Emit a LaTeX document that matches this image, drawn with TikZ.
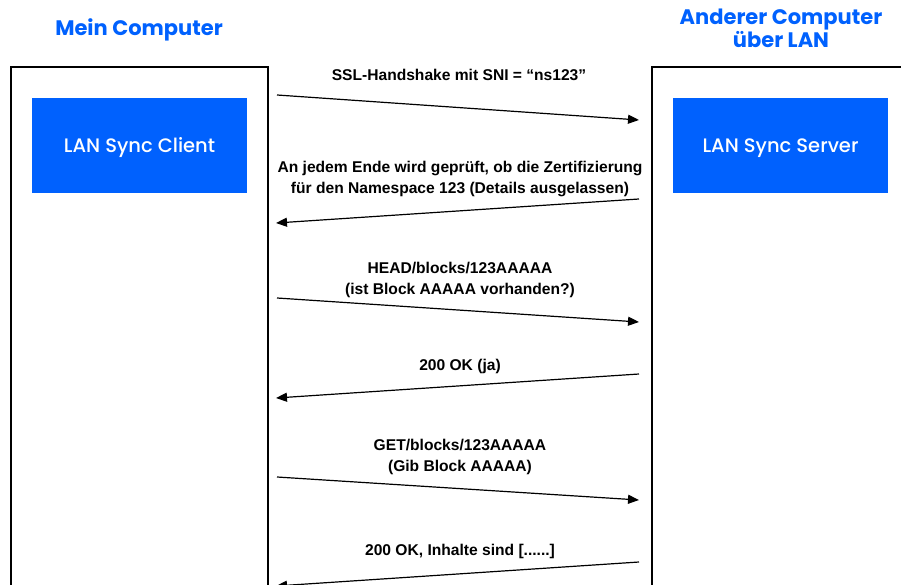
\documentclass[tikz,border=0pt]{standalone}
\usepackage{fontspec}
\setmainfont{Liberation Sans}
\newfontfamily\titlefont{Poppins}
\newfontfamily\boxfont{Poppins}[UprightFont={* Medium}]
\usetikzlibrary{arrows.meta}
\definecolor{dbblue}{HTML}{0061FE}
\tikzset{
  frame/.style={draw=black, line width=1.4pt},
  comp/.style={fill=dbblue, draw=none, text=white, font=\boxfont\fontsize{19.5}{22}\selectfont,
    text height=14pt, text depth=0pt, minimum width=215pt, minimum height=95pt},
  heading/.style={text=dbblue, font=\titlefont\bfseries\fontsize{21}{21}\selectfont, align=center},
  msg/.style={font=\bfseries\fontsize{15.6}{20.5}\selectfont, align=center, inner sep=0pt},
  flow/.style={draw=black, line width=1.2pt, -{Triangle[length=11pt,width=9pt]}}
}
\begin{document}
\begin{tikzpicture}[x=1pt, y=-1pt]
\useasboundingbox (0,0) rectangle (901,585);

% host frames (they run past the page edge)
\draw[frame] (11,620) -- (11,67) -- (268,67) -- (268,620);
\draw[frame] (652,620) -- (652,67) -- (940,67);

% headings
\node[heading] (mine) at (139,30) {Mein Computer};
\node[heading] (other) at (781,28) {Anderer Computer\\über LAN};

% components
\node[comp] (client) at (139.5,145.5) {LAN Sync Client};
\node[comp] (server) at (780.5,145.5) {LAN Sync Server};

% end points of the messages
\coordinate (a1) at (277,95);  \coordinate (b1) at (639,120);
\coordinate (b2) at (639,199); \coordinate (a2) at (276,223);
\coordinate (a3) at (277,298); \coordinate (b3) at (639,322);
\coordinate (b4) at (639,374); \coordinate (a4) at (276,398);
\coordinate (a5) at (277,477); \coordinate (b5) at (639,500);
\coordinate (b6) at (639,562); \coordinate (a6) at (276,586);

% messages
\draw[flow] (a1) -- (b1);
\draw[flow] (b2) -- (a2);
\draw[flow] (a3) -- (b3);
\draw[flow] (b4) -- (a4);
\draw[flow] (a5) -- (b5);
\draw[flow] (b6) -- (a6);

% labels
\node[msg] (m1) at (459,75) {SSL-Handshake mit SNI = “ns123”};
\node[msg] (m2) at (460,179) {An jedem Ende wird geprüft, ob die Zertifizierung\\für den Namespace 123 (Details ausgelassen)};
\node[msg] (m3) at (460,280) {HEAD/blocks/123AAAAA\\(ist Block AAAAA vorhanden?)};
\node[msg] (m4) at (460,366) {200 OK (ja)};
\node[msg] (m5) at (460,457) {GET/blocks/123AAAAA\\(Gib Block AAAAA)};
\node[msg] (m6) at (460,551) {200 OK, Inhalte sind [......]};
\end{tikzpicture}
\end{document}
